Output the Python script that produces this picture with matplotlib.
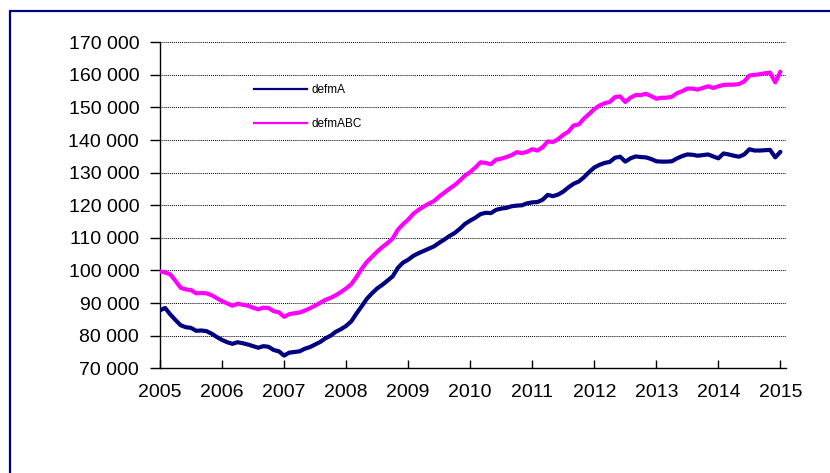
import numpy as np
import matplotlib
matplotlib.use("Agg")
import matplotlib.pyplot as plt
from matplotlib.lines import Line2D
from matplotlib.patches import Rectangle
from matplotlib.ticker import FuncFormatter, MultipleLocator

plt.rcParams['font.family'] = ['Liberation Sans', 'DejaVu Sans']

# Monthly series, Jan 2005 - Jan 2015 (thousands)
defmA_k = [
    87.8, 88.5, 86.5, 84.8, 83.2, 82.6, 82.4, 81.5, 81.6, 81.4, 80.6, 79.6,
    78.7, 78.0, 77.5, 78.0, 77.7, 77.3, 76.8, 76.3, 76.8, 76.6, 75.6, 75.2,
    73.9, 74.8, 75.0, 75.2, 76.0, 76.5, 77.3, 78.1, 79.2, 80.0, 81.2, 82.0,
    83.0, 84.4, 86.8, 89.0, 91.3, 93.0, 94.5, 95.6, 96.9, 98.2, 100.8, 102.4,
    103.3, 104.5, 105.3, 106.0, 106.7, 107.4, 108.5, 109.5, 110.6, 111.5, 112.8, 114.3,
    115.3, 116.2, 117.3, 117.7, 117.6, 118.6, 119.0, 119.2, 119.7, 119.9, 120.0, 120.6,
    120.9, 121.0, 121.7, 123.2, 122.8, 123.3, 124.2, 125.5, 126.6, 127.3, 128.6, 130.2,
    131.6, 132.4, 133.0, 133.3, 134.6, 134.9, 133.4, 134.4, 135.0, 134.8, 134.7, 134.2,
    133.5, 133.4, 133.4, 133.5, 134.4, 135.1, 135.6, 135.5, 135.2, 135.4, 135.6, 135.0,
    134.4, 135.9, 135.6, 135.2, 134.9, 135.6, 137.2, 136.8, 136.8, 136.9, 137.0, 134.7,
    136.4,
]
defmABC_k = [
    99.7, 99.4, 98.8, 96.8, 94.7, 94.2, 94.0, 93.0, 93.1, 93.0, 92.4, 91.5,
    90.6, 89.9, 89.2, 89.8, 89.5, 89.2, 88.6, 88.1, 88.6, 88.5, 87.5, 87.2,
    85.8, 86.6, 86.9, 87.1, 87.7, 88.4, 89.2, 90.1, 91.0, 91.6, 92.4, 93.4,
    94.5, 95.8, 98.0, 100.5, 102.6, 104.2, 105.8, 107.2, 108.4, 109.8, 112.5, 114.2,
    115.6, 117.4, 118.6, 119.6, 120.5, 121.3, 122.7, 123.9, 125.1, 126.2, 127.6, 129.1,
    130.2, 131.6, 133.2, 133.0, 132.6, 134.0, 134.3, 134.8, 135.4, 136.3, 136.0, 136.4,
    137.2, 136.8, 137.8, 139.6, 139.4, 140.3, 141.6, 142.6, 144.5, 144.8, 146.6, 148.0,
    149.5, 150.6, 151.3, 151.7, 153.2, 153.4, 151.7, 153.0, 153.8, 153.8, 154.2, 153.5,
    152.7, 153.0, 153.0, 153.3, 154.4, 155.0, 155.8, 155.8, 155.5, 156.0, 156.5, 156.0,
    156.5, 156.9, 157.0, 157.0, 157.2, 158.0, 159.8, 160.0, 160.2, 160.5, 160.7, 157.7,
    161.0,
]
labels = ['defmA', 'defmABC']
colors = ['#000080', '#FF00FF']

defmA = np.array(defmA_k) * 1000
defmABC = np.array(defmABC_k) * 1000
t = 2005 + np.arange(len(defmA)) / 12.0

fig = plt.figure(figsize=(8.3, 4.73), dpi=100)
ax = fig.add_axes([160 / 830, 1 - 368.3 / 473, 626 / 830, 326 / 473])

# outer frame
fig.patches.append(Rectangle((9.5 / 830, -0.2), 1.2, 1.2 - 10.7 / 473,
                             transform=fig.transFigure, fill=False,
                             edgecolor='#000080', linewidth=1.6))

ax.plot(t, defmA, color=colors[0], lw=3, solid_capstyle='round', zorder=3)
ax.plot(t, defmABC, color=colors[1], lw=3, solid_capstyle='round', zorder=3)

ax.set_xlim(2005, 2015.09)
ax.set_ylim(70000, 170000)
ax.xaxis.set_major_locator(MultipleLocator(1))
ax.yaxis.set_major_locator(MultipleLocator(10000))
ax.xaxis.set_major_formatter(FuncFormatter(lambda v, p: f"{int(round(v))}"))
ax.yaxis.set_major_formatter(FuncFormatter(lambda v, p: f"{int(v):,}".replace(",", " ")))

ax.grid(axis='y', color='black', linestyle=(0, (1, 1)), linewidth=0.7)
ax.set_axisbelow(True)
for s in ['top', 'right']:
    ax.spines[s].set_visible(False)
for s in ['left', 'bottom']:
    ax.spines[s].set_linewidth(1)
ax.tick_params(axis='y', direction='out', length=7, width=1, pad=8, labelsize=14)
ax.tick_params(axis='x', direction='in', length=6, width=1, pad=11, labelsize=14)

handles = [Line2D([], [], color=c, lw=1.6) for c in colors]
ax.legend(handles, labels, loc='upper left', bbox_to_anchor=(0.150, 0.872),
          frameon=False, fontsize=8.5, handlelength=4.5, handletextpad=0.4,
          labelspacing=1.9, borderpad=0, borderaxespad=0)

fig.savefig('out.png', dpi=100)
